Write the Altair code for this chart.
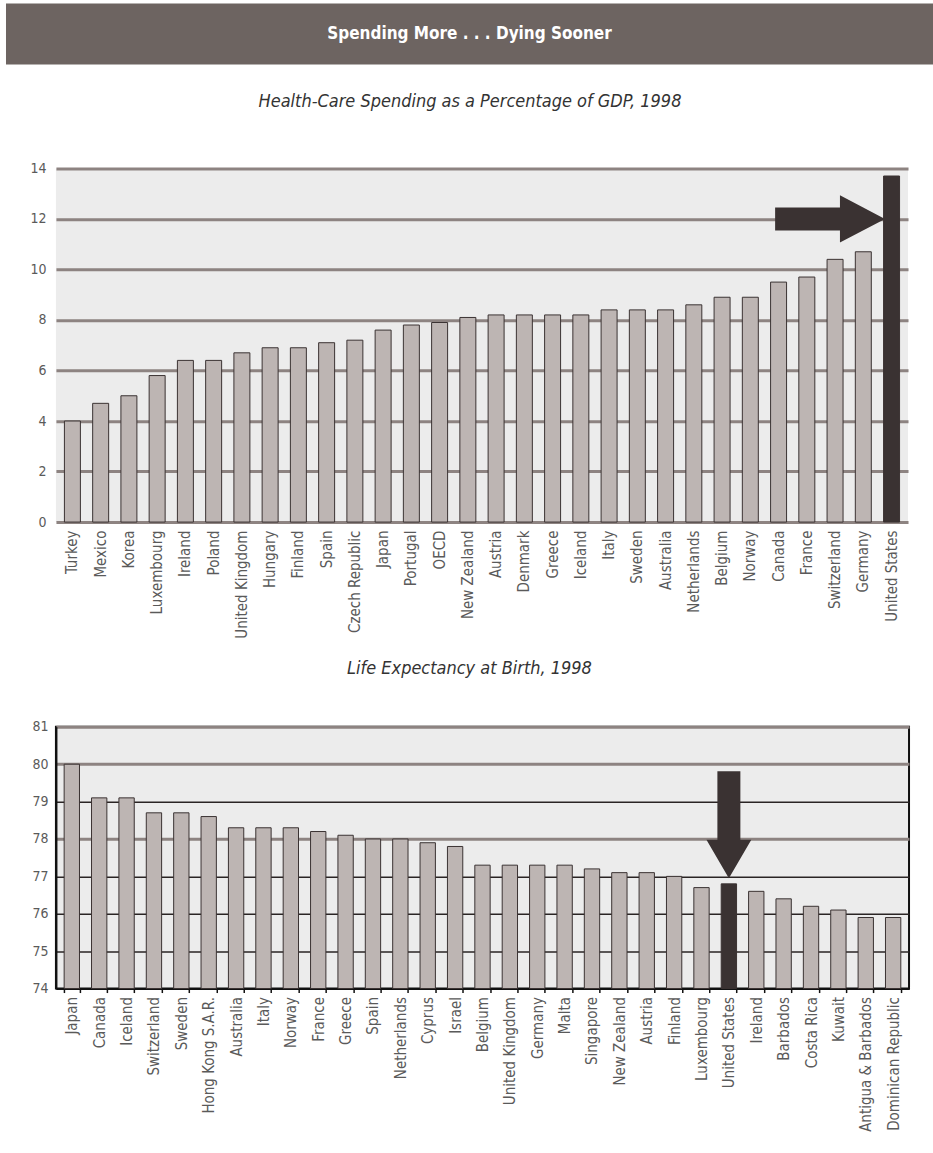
import altair as alt
import pandas as pd

main_title = "Spending More . . . Dying Sooner"
top_subtitle = "Health-Care Spending as a Percentage of GDP, 1998"
bottom_subtitle = "Life Expectancy at Birth, 1998"

spend_countries = ["Turkey", "Mexico", "Korea", "Luxembourg", "Ireland", "Poland",
                   "United Kingdom", "Hungary", "Finland", "Spain", "Czech Republic",
                   "Japan", "Portugal", "OECD", "New Zealand", "Austria", "Denmark",
                   "Greece", "Iceland", "Italy", "Sweden", "Australia", "Netherlands",
                   "Belgium", "Norway", "Canada", "France", "Switzerland", "Germany",
                   "United States"]
spend_values = [4.0, 4.7, 5.0, 5.8, 6.4, 6.4, 6.7, 6.9, 6.9, 7.1, 7.2, 7.6, 7.8, 7.9,
                8.1, 8.2, 8.2, 8.2, 8.2, 8.4, 8.4, 8.4, 8.6, 8.9, 8.9, 9.5, 9.7, 10.4,
                10.7, 13.7]
spend_ticks = [0, 2, 4, 6, 8, 10, 12, 14]

life_countries = ["Japan", "Canada", "Iceland", "Switzerland", "Sweden", "Hong Kong S.A.R.",
                  "Australia", "Italy", "Norway", "France", "Greece", "Spain", "Netherlands",
                  "Cyprus", "Israel", "Belgium", "United Kingdom", "Germany", "Malta",
                  "Singapore", "New Zealand", "Austria", "Finland", "Luxembourg",
                  "United States", "Ireland", "Barbados", "Costa Rica", "Kuwait",
                  "Antigua & Barbados", "Dominican Republic"]
life_values = [80.0, 79.1, 79.1, 78.7, 78.7, 78.6, 78.3, 78.3, 78.3, 78.2, 78.1, 78.0,
               78.0, 77.9, 77.8, 77.3, 77.3, 77.3, 77.3, 77.2, 77.1, 77.1, 77.0, 76.7,
               76.8, 76.6, 76.4, 76.2, 76.1, 75.9, 75.9]
life_ticks = [74, 75, 76, 77, 78, 79, 80, 81]

highlight = "United States"
# arrow annotations (anchored in data space)
top_arrow = {"country": ["Switzerland"], "value": [12]}
bottom_arrow = {"country": ["United States"], "value": [78.38]}

FONT = "DejaVu Sans Condensed"
BAR = "#bdb5b3"
DARK = "#3a3232"
PLOT_BG = "#ececec"
LABEL = "#5a5a5a"
EXT = 50          # y-axis extent (same for both panels)
W_TOP = 853
W_BOT = 854

spend_df = pd.DataFrame({"country": spend_countries, "value": spend_values})
life_df = pd.DataFrame({"country": life_countries, "value": life_values})

bar_color = alt.condition(alt.datum.country == highlight, alt.value(DARK), alt.value(BAR))

# ---------- header ----------
head_data = alt.Data(values=[{"t": main_title}])
head_left = -EXT
head_right = W_TOP + 25
head_rect = alt.Chart(head_data).mark_rect(color="#6d6461").encode(
    x=alt.value(head_left), x2=alt.value(head_right),
    y=alt.value(0), y2=alt.value(61))
head_text = alt.Chart(head_data).mark_text(
    color="white", fontSize=17, fontWeight="bold", font=FONT, baseline="middle"
).encode(text="t:N", x=alt.value((head_left + head_right) / 2), y=alt.value(30))
header = alt.layer(head_rect, head_text).properties(width=W_TOP, height=70)

# ---------- top chart ----------
x_top = alt.X("country:N", sort=spend_countries, title=None,
              scale=alt.Scale(paddingInner=0.434, paddingOuter=0.3),
              axis=alt.Axis(labelAngle=-90, labelColor=LABEL, labelFont=FONT,
                            labelFontSize=15, domain=False, ticks=False,
                            labelPadding=8))
y_top = alt.Y("value:Q", title=None,
              scale=alt.Scale(domain=[0, 14], nice=False, zero=True),
              axis=alt.Axis(values=spend_ticks, labelColor=LABEL, labelFont=FONT,
                            labelFontSize=14, domain=False, ticks=False,
                            labelPadding=10, grid=True, gridColor="#8d8381",
                            gridWidth=3, minExtent=EXT, maxExtent=EXT))

top_bars = alt.Chart(spend_df).mark_bar(stroke=DARK, strokeWidth=1).encode(
    x=x_top, y=y_top, color=bar_color)
top_arrow_mark = alt.Chart(pd.DataFrame(top_arrow)).mark_point(
    shape="M-1,-0.21 L0.18,-0.21 L0.18,-0.43 L1,0 L0.18,0.43 L0.18,0.21 L-1,0.21 Z",
    size=12100, filled=True, fill=DARK, opacity=1, strokeWidth=0
).encode(x=x_top, y=y_top, xOffset=alt.value(3))

top = alt.layer(top_bars, top_arrow_mark).properties(
    width=W_TOP, height=354,
    title=alt.TitleParams(top_subtitle, font=FONT, fontStyle="italic", fontSize=18,
                          fontWeight="normal", color="#333333", anchor="middle",
                          offset=50, dx=-12),
    view=alt.ViewBackground(fill=PLOT_BG, stroke=None))

# ---------- bottom chart ----------
x_bot = alt.X("country:N", sort=life_countries, title=None,
              scale=alt.Scale(paddingInner=0.44, paddingOuter=0.3),
              axis=alt.Axis(labelAngle=-90, labelColor=LABEL, labelFont=FONT,
                            labelFontSize=15, domain=True, domainColor="#111111",
                            domainWidth=2, ticks=True, tickColor="#111111",
                            tickSize=4, tickWidth=1.5, tickBand="extent",
                            labelPadding=4))
grid_test = "datum.value == 79 || datum.value <= 77"
y_bot = alt.Y("value:Q", title=None,
              scale=alt.Scale(domain=[74, 81], nice=False, zero=False),
              axis=alt.Axis(values=life_ticks, labelColor=LABEL, labelFont=FONT,
                            labelFontSize=14, domain=True, domainColor="#111111",
                            domainWidth=2, ticks=False, labelPadding=8, grid=True,
                            labelOverlap=False,
                            gridColor={"condition": {"test": grid_test, "value": "#2a2424"},
                                       "value": "#8d8381"},
                            gridWidth={"condition": {"test": grid_test, "value": 1.5},
                                       "value": 3},
                            minExtent=EXT, maxExtent=EXT))

bot_bars = alt.Chart(life_df).mark_bar(stroke=DARK, strokeWidth=1).encode(
    x=x_bot, y=y_bot, y2=alt.datum(74), color=bar_color)
bot_arrow_mark = alt.Chart(pd.DataFrame(bottom_arrow)).mark_point(
    shape="M-0.215,-1 L0.215,-1 L0.215,0.28 L0.42,0.28 L0,1 L-0.42,0.28 L-0.215,0.28 Z",
    size=11449, filled=True, fill=DARK, opacity=1, strokeWidth=0
).encode(x=x_bot, y=y_bot)

bottom = alt.layer(bot_bars, bot_arrow_mark).properties(
    width=W_BOT, height=262,
    title=alt.TitleParams(bottom_subtitle, font=FONT, fontStyle="italic", fontSize=18,
                          fontWeight="normal", color="#333333", anchor="middle",
                          offset=42, dx=-13),
    view=alt.ViewBackground(fill=PLOT_BG, stroke="#111111", strokeWidth=2))

chart = alt.vconcat(header, top, bottom, spacing=20).properties(
    padding={"left": 5, "top": 3, "right": 0, "bottom": 0},
    background="white"
).configure_view(stroke=None)

chart.save("out.html", embed_options={"renderer": "svg", "actions": False})
